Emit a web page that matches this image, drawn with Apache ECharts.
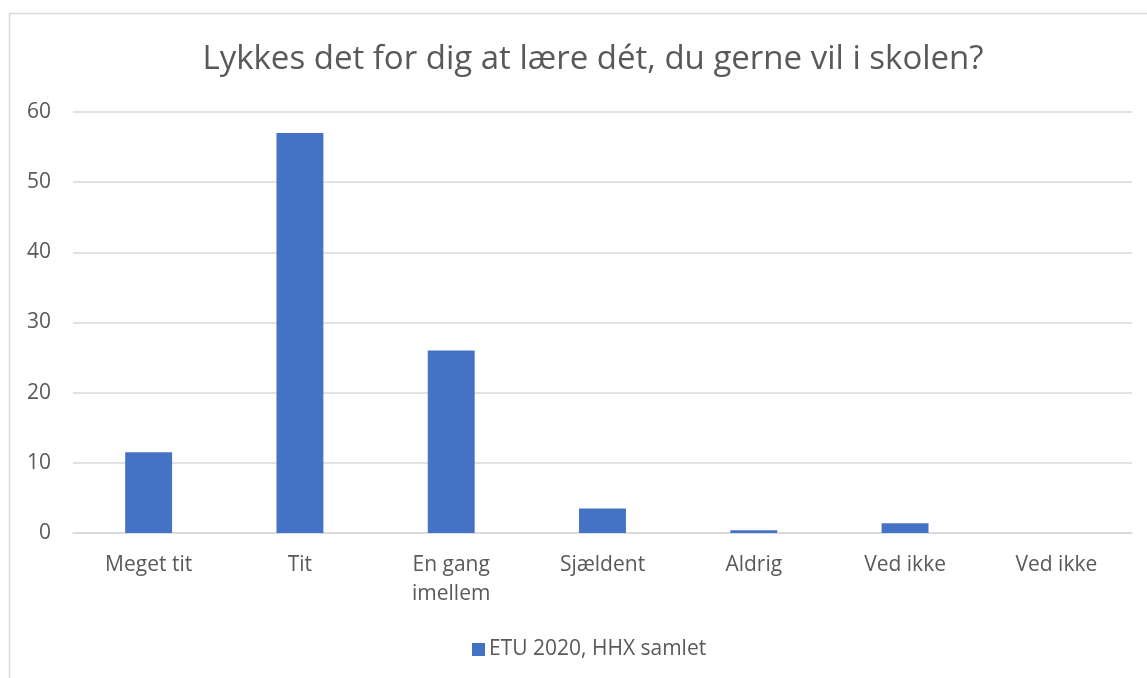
<!DOCTYPE html>
<html>
<head>
<meta charset="utf-8">
<script src="https://cdn.jsdelivr.net/npm/echarts@6/dist/echarts.min.js"></script>
<style>
html,body{margin:0;padding:0;background:#fff;}
#chart{width:1147px;height:678px;}
</style>
</head>
<body>
<div id="chart"></div>
<script>
const titleText = 'Lykkes det for dig at lære dét, du gerne vil i skolen?';
const categories = ['Meget tit', 'Tit', 'En gang\nimellem', 'Sjældent', 'Aldrig', 'Ved ikke', 'Ved ikke'];
const seriesName = 'ETU 2020, HHX samlet';
const values = [11.5, 57, 26, 3.5, 0.4, 1.4, 0];

const chart = echarts.init(document.getElementById('chart'), null, {renderer: 'canvas'});
const FONT = 'Open Sans';
const TXT = '#595959';
chart.setOption({
  animation: false,
  backgroundColor: '#fff',
  title: {
    text: titleText,
    left: 588, top: 38, textAlign: 'center',
    textStyle: {fontFamily: FONT, fontSize: 33, fontWeight: 'normal', color: TXT}
  },
  graphic: [{
    type: 'rect', silent: true,
    shape: {x: 9.5, y: 13.5, width: 1200, height: 700},
    style: {fill: 'none', stroke: '#d9d9d9', lineWidth: 1.5}
  }],
  legend: {
    bottom: 13, left: 467,
    itemWidth: 13, itemHeight: 13, icon: 'rect', itemGap: 5,
    textStyle: {fontFamily: FONT, fontSize: 21, color: TXT, padding: [0, 0, 0, -1]},
    data: [seriesName]
  },
  grid: {left: 73, right: 15, top: 112, bottom: 145, containLabel: false},
  xAxis: {
    type: 'category', data: categories,
    axisLine: {show: true, lineStyle: {color: '#d9d9d9', width: 1.5}},
    axisTick: {show: false},
    axisLabel: {fontFamily: FONT, fontSize: 21, color: TXT, margin: 18, lineHeight: 29, interval: 0}
  },
  yAxis: {
    type: 'value', min: 0, max: 60, interval: 10,
    axisLine: {show: false}, axisTick: {show: false},
    splitLine: {lineStyle: {color: '#d9d9d9', width: 1.5}},
    axisLabel: {fontFamily: FONT, fontSize: 21, color: TXT, margin: 22}
  },
  series: [{
    name: seriesName, type: 'bar', data: values,
    barWidth: '31%',
    itemStyle: {color: '#4472c4'}
  }]
});
</script>
</body>
</html>
